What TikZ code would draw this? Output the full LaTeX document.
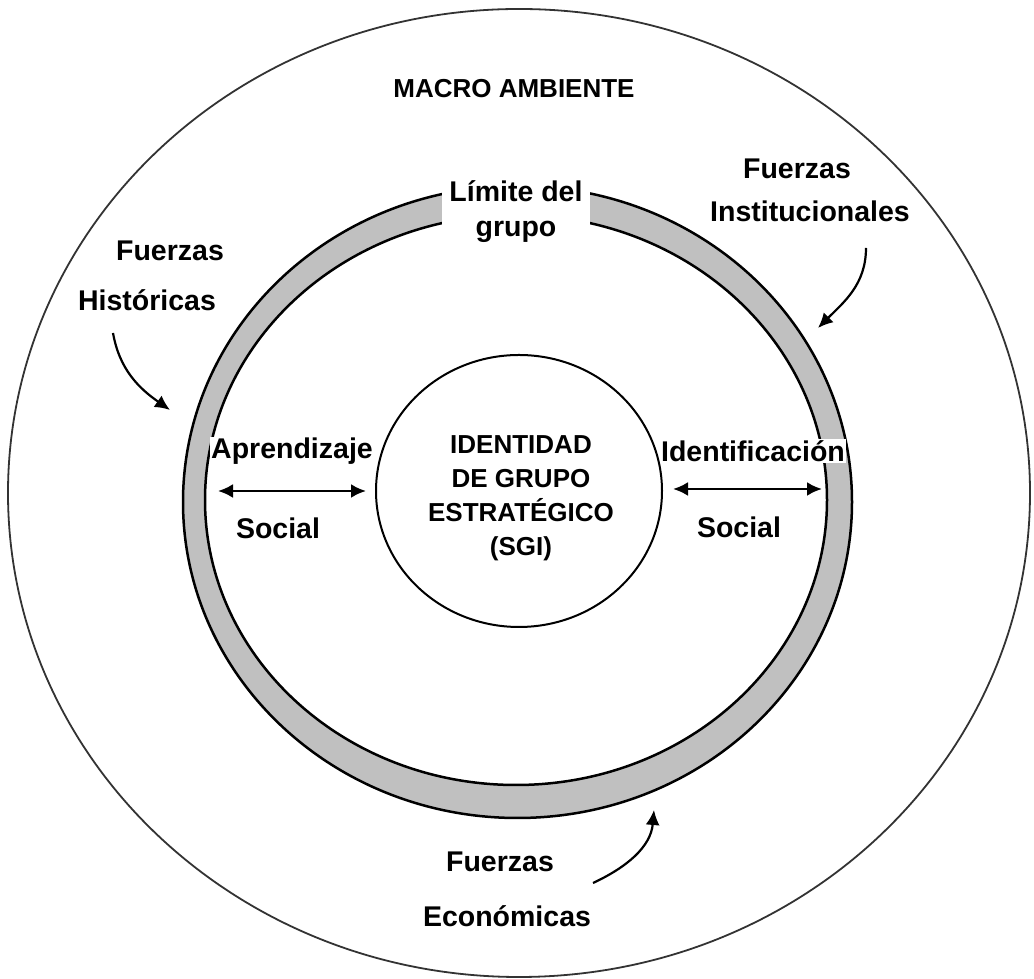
\documentclass[tikz,border=0pt]{standalone}
\usepackage{fontspec}
\setmainfont{Liberation Sans}
\usetikzlibrary{arrows.meta,positioning}
\definecolor{ringgray}{RGB}{192,192,192}

\begin{document}
\begin{tikzpicture}[x=1pt,y=1pt,
		tag/.style   = {font=\bfseries\fontsize{26}{34}\selectfont, inner sep=1pt, align=center},
		word/.style  = {tag, font=\bfseries\fontsize{28.5}{35}\selectfont},
		cover/.style = {word, fill=white},
		edge/.style  = {draw=black, line width=2.5pt},
		force/.style = {->, line width=2.2pt},
		link/.style  = {<->, line width=2.5pt},
		>={Latex[length=15pt,width=14pt]}]
		
		\useasboundingbox (0,0) rectangle (1034,979);
		
		% macro environment, outer ellipse
		\draw[line width=1.8pt, black!80] (519,486) ellipse [x radius=511pt, y radius=484pt];
		
		% group boundary ring
		\fill[ringgray, even odd rule] (517.5,477) ellipse [x radius=334.5pt, y radius=316pt]
			(516,479) ellipse [x radius=311pt, y radius=285pt];
		\draw[edge] (517.5,477) ellipse [x radius=334.5pt, y radius=316pt];
		\draw[edge] (516,479) ellipse [x radius=311pt, y radius=285pt];
		
		% strategic group identity, inner circle
		\draw[line width=2pt] (519,488) ellipse [x radius=143pt, y radius=136pt];
		
		% texts
		\node[tag] (macro) at (514,890) {MACRO AMBIENTE};
		\node[cover, minimum width=148pt, minimum height=72pt] (limite) at (516,767) {Límite del\\grupo};
		\node[tag] (sgi) at (521,481) {IDENTIDAD\\DE GRUPO\\ESTRATÉGICO\\(SGI)};
		
		\node[cover] (aprend) at (292,528) {Aprendizaje};
		\node[word] (social1) at (278,451) {Social};
		\node[cover] (ident) at (753,528) {Identificación};
		\node[word] (social2) at (739,452) {Social};
		
		\node[word] (finst1) at (797,810) {Fuerzas};
		\node[word] (finst2) at (810,768) {Institucionales};
		\node[word] (fhist1) at (170,728) {Fuerzas};
		\node[word] (fhist2) at (147,679) {Históricas};
		\node[word] (fecon1) at (500,117) {Fuerzas};
		\node[word] (fecon2) at (507,63) {Económicas};
		
		% arrow ends
		\coordinate (al) at (218,488);
		\coordinate (ar) at (366,488);
		\coordinate (il) at (673,490);
		\coordinate (ir) at (822,490);
		\coordinate (hs) at (113,646);
		\coordinate (he) at (170,569);
		\coordinate (is) at (866,731);
		\coordinate (ie) at (818,651);
		\coordinate (es) at (593,96);
		\coordinate (ee) at (654,169);
		
		% social learning and identification
		\draw[link] (al) -- (ar);
		\draw[link] (il) -- (ir);
		
		% forces acting on the group
		\draw[force] (hs) to[out=-80, in=145] (he);
		\draw[force] (is) to[out=-90, in=45] (ie);
		\draw[force] (es) to[out=25, in=-95] (ee);
		
	\end{tikzpicture}
\end{document}
